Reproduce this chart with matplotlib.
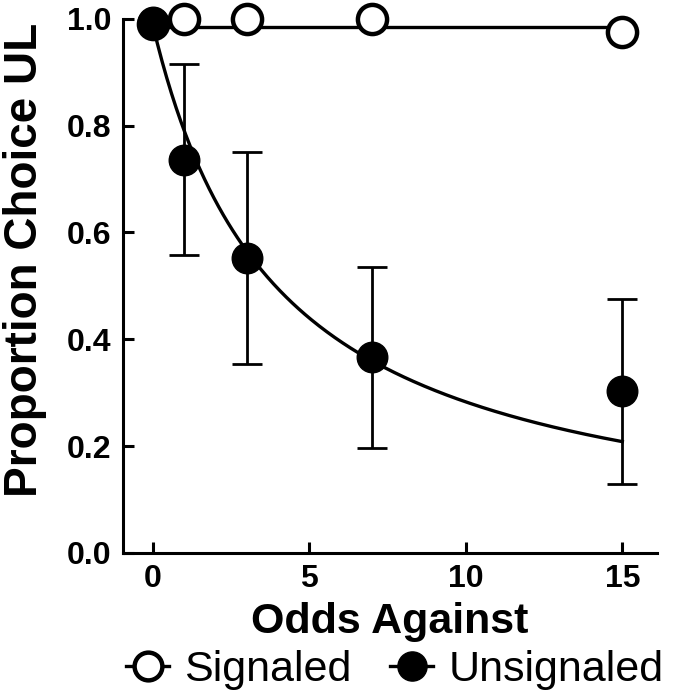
import numpy as np
import matplotlib
matplotlib.use("Agg")
import matplotlib.pyplot as plt
from matplotlib.lines import Line2D

# Data
odds = [0, 1, 3, 7, 15]
signaled = [0.99, 1.0, 1.0, 1.0, 0.976]
signaled_fit = 0.985
unsignaled = [0.994, 0.736, 0.552, 0.366, 0.303]
unsig_err = [0.0, 0.179, 0.199, 0.17, 0.173]
fit_A = 0.99
fit_k = 0.25

plt.rcParams['font.family'] = ['Liberation Sans', 'DejaVu Sans']

fig = plt.figure(figsize=(6.75, 6.96), dpi=100)
ax = fig.add_axes([0.182, 0.2055, 0.791, 0.7675])

lw = 2.4
# Signaled fit line
ax.plot([0, 15], [signaled_fit, signaled_fit], color='black', lw=lw, zorder=2, clip_on=False)
# Unsignaled fit curve
xs = np.linspace(0, 15, 300)
ax.plot(xs, fit_A / (1 + fit_k * xs), color='black', lw=lw, zorder=2, clip_on=False)

# Error bars
ax.errorbar(odds[1:], unsignaled[1:], yerr=unsig_err[1:], fmt='none', ecolor='black',
            elinewidth=2.0, capsize=11, capthick=2.0, zorder=3)

# Signaled markers
ax.plot(odds, signaled, linestyle='none', marker='o', markersize=21, markerfacecolor='white',
        markeredgecolor='black', markeredgewidth=3.2, zorder=4, clip_on=False)
# Unsignaled markers
ax.plot(odds, unsignaled, linestyle='none', marker='o', markersize=22, markerfacecolor='black',
        markeredgecolor='black', zorder=5, clip_on=False)

ax.set_xlim(-0.95, 16.1)
ax.set_ylim(0, 1.0)
ax.set_xticks([0, 5, 10, 15])
ax.set_yticks([0.0, 0.2, 0.4, 0.6, 0.8, 1.0])
ax.set_yticklabels(['0.0', '0.2', '0.4', '0.6', '0.8', '1.0'])
for s in ['top', 'right']:
    ax.spines[s].set_visible(False)
for s in ['left', 'bottom']:
    ax.spines[s].set_linewidth(2.2)
ax.tick_params(direction='in', length=8, width=2.2, labelsize=23, pad=8)
for lab in ax.get_xticklabels() + ax.get_yticklabels():
    lab.set_fontweight('bold')

ax.set_xlabel('Odds Against', fontsize=31, fontweight='bold', labelpad=6)
ax.set_ylabel('Proportion Choice UL', fontsize=33, fontweight='bold')
ax.yaxis.set_label_coords(-0.142, 0.549)

handles = [
    Line2D([], [], color='black', lw=lw, marker='o', markersize=20, markerfacecolor='white',
           markeredgecolor='black', markeredgewidth=3.2),
    Line2D([], [], color='black', lw=lw, marker='o', markersize=21, markerfacecolor='black',
           markeredgecolor='black'),
]
fig.legend(handles, ['Signaled', 'Unsignaled'], loc='center', bbox_to_anchor=(0.585, 0.037),
           ncol=2, frameon=False, fontsize=31, handlelength=1.0, handletextpad=0.35,
           columnspacing=0.9)

fig.savefig('out.png', dpi=100)
